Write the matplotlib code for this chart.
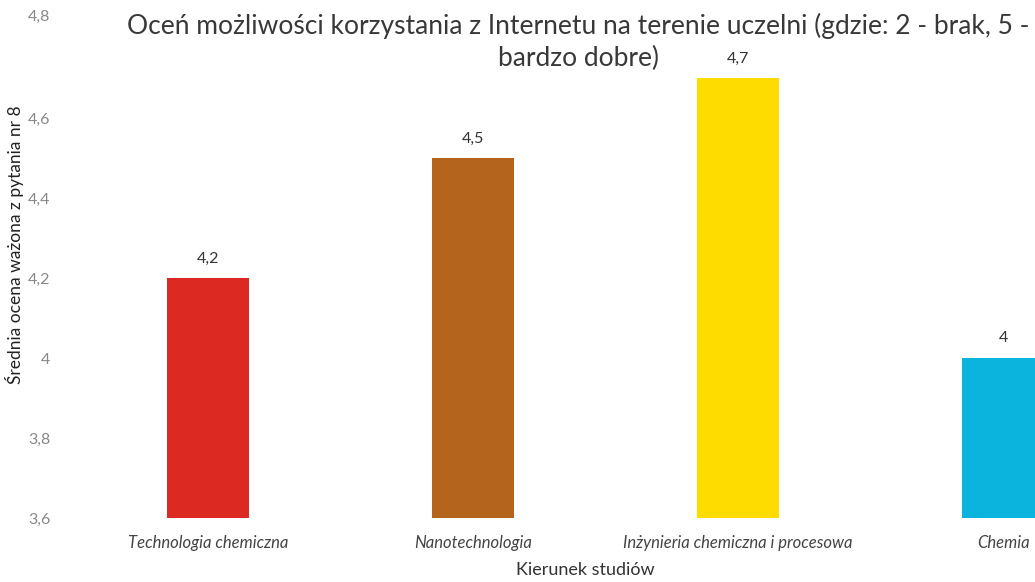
import matplotlib.pyplot as plt
import matplotlib.transforms as mtransforms

categories = ['Technologia chemiczna', 'Nanotechnologia', 'Inżynieria chemiczna i procesowa', 'Chemia']
values = [4.2, 4.5, 4.7, 4.0]
colors = ['#dc2a22', '#b5641e', '#ffdc00', '#0bb4dc']
yticks = [3.6, 3.8, 4.0, 4.2, 4.4, 4.6, 4.8]
ytick_labels = ['3,6', '3,8', '4', '4,2', '4,4', '4,6', '4,8']
title_lines = ['Oceń możliwości korzystania z Internetu na terenie uczelni (gdzie: 2 - brak, 5 -',
               'bardzo dobre)']

plt.rcParams['font.family'] = ['Lato', 'DejaVu Sans']

fig = plt.figure(figsize=(10.35, 5.82), dpi=100)
W, H = 1035, 582
# axes reaches past the right edge, like the cropped original
ax = fig.add_axes([70 / W, 64 / H, (W - 70) / W, (518 - 38) / H])

x = list(range(len(categories)))
ax.bar(x, values, width=0.31, color=colors, bottom=0)
ax.set_xlim((70 - 208) / 265, (W - 208) / 265)
ax.set_ylim(3.6, 4.8)

for xi, v in zip(x, values):
    lab = ('%g' % v).replace('.', ',')
    ax.annotate(lab, (xi, v), xytext=(0, 9), textcoords='offset points',
                ha='center', va='bottom', fontsize=11.5, color='#333333')

for s in ax.spines.values():
    s.set_visible(False)
ax.tick_params(length=0)
ax.set_yticks(yticks)
ax.set_yticklabels(ytick_labels, fontsize=11.5, color='#888888')
ax.tick_params(axis='y', pad=14)
ax.set_xticks(x)
ax.set_xticklabels(categories, fontsize=12, style='italic', color='#444444')
ax.tick_params(axis='x', pad=12)

# top tick label sits higher in the original
top = ax.get_yticklabels()[-1]
top.set_transform(top.get_transform() + mtransforms.ScaledTranslation(0, 0.23, fig.dpi_scale_trans))

fig.text(585 / W, 1 - 570 / H, 'Kierunek studiów', ha='center', va='center',
         fontsize=13, color='#333333')
fig.text(15 / W, 1 - 245 / H, 'Średnia ocena ważona z pytania nr 8', rotation=90,
         ha='center', va='center', fontsize=12.5, color='#222222')

# title, two lines placed separately
for line, yc in zip(title_lines, [26, 58]):
    fig.text(578 / W, 1 - yc / H, line, ha='center', va='center',
             fontsize=19, color='#383838')

fig.savefig('out.png', dpi=100)
